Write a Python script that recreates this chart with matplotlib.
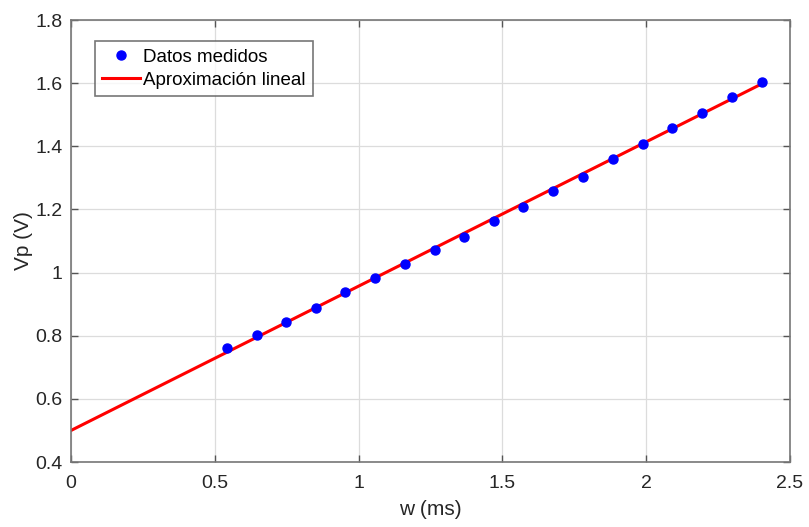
import matplotlib
matplotlib.use("Agg")
import matplotlib.pyplot as plt

w_ms = [0.544, 0.646, 0.749, 0.852, 0.954, 1.058, 1.162, 1.265, 1.367, 1.470,
        1.573, 1.676, 1.779, 1.884, 1.988, 2.090, 2.195, 2.297, 2.402]
vp_v = [0.761, 0.802, 0.843, 0.887, 0.940, 0.983, 1.028, 1.071, 1.114, 1.164,
        1.209, 1.257, 1.303, 1.359, 1.408, 1.457, 1.507, 1.556, 1.603]
fit_x = [0.0, 2.4]
fit_y = [0.5, 1.597]
xticks = [0, 0.5, 1, 1.5, 2, 2.5]
xtick_labels = ["0", "0.5", "1", "1.5", "2", "2.5"]
yticks = [0.4, 0.6, 0.8, 1.0, 1.2, 1.4, 1.6, 1.8]
ytick_labels = ["0.4", "0.6", "0.8", "1", "1.2", "1.4", "1.6", "1.8"]

font = "Liberation Sans"

fig = plt.figure(figsize=(8.09, 5.27), dpi=100)
ax = fig.add_axes([0.0878, 0.1233, 0.8887, 0.8387])

ax.plot(w_ms, vp_v, "o", color="#0000ff", markersize=6.5, label="Datos medidos", zorder=3)
ax.plot(fit_x, fit_y, "-", color="#ff0000", linewidth=2.2, label="Aproximación lineal", zorder=2)

ax.set_xlim(0, 2.5)
ax.set_ylim(0.4, 1.8)
ax.set_xticks(xticks)
ax.set_xticklabels(xtick_labels, fontfamily=font, fontsize=14, color="#262626")
ax.set_yticks(yticks)
ax.set_yticklabels(ytick_labels, fontfamily=font, fontsize=14, color="#262626")
ax.tick_params(axis="both", direction="in", length=5, width=1, color="#555555",
               top=True, right=True)
ax.tick_params(axis="x", pad=9)
ax.tick_params(axis="y", pad=6)
ax.grid(True, color="#dcdcdc", linewidth=0.9)
ax.set_axisbelow(True)
for s in ax.spines.values():
    s.set_color("#777777")
    s.set_linewidth(1.2)

ax.set_xlabel("w (ms)", fontfamily=font, fontsize=15, color="#262626", labelpad=6)
ax.set_ylabel("Vp (V)", fontfamily=font, fontsize=15, color="#262626", labelpad=2)

leg = ax.legend(loc="upper left", bbox_to_anchor=(0.033, 0.952),
                prop={"family": font, "size": 13.5},
                frameon=True, fancybox=False, edgecolor="#555555",
                handlelength=2.0, handletextpad=0.15, borderpad=0.4,
                labelspacing=0.3, borderaxespad=0)
leg.get_frame().set_linewidth(1.2)

fig.savefig("out.png", dpi=100)
